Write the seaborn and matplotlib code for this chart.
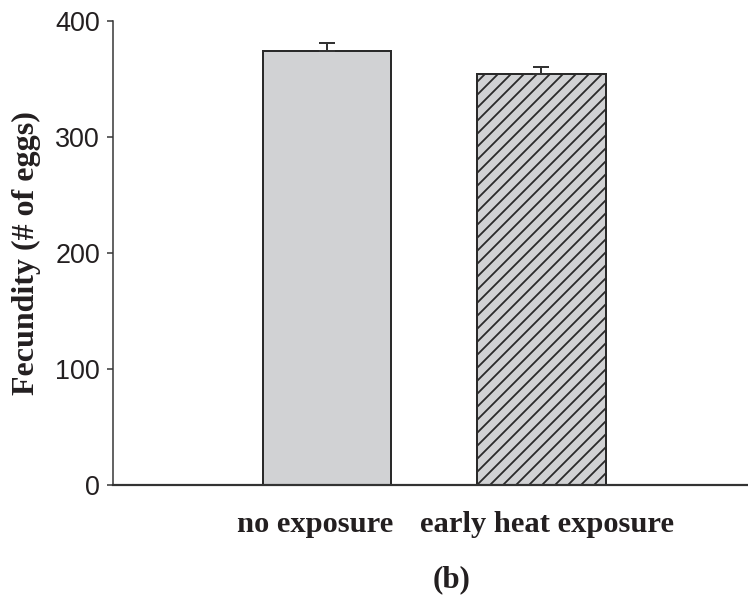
import matplotlib
matplotlib.use("Agg")
import matplotlib.pyplot as plt
import matplotlib.transforms as mtransforms
import seaborn as sns
import pandas as pd

# ---- data ----
categories = ["no exposure", "early heat exposure"]
fecundity = [374, 354]
sem = [7, 6.5]
yticks = [0, 100, 200, 300, 400]
panel_label = "(b)"
ylabel = "Fecundity (# of eggs)"

DPI = 78
W, H = 748, 600
def px2pt(px):
    return px * 72.0 / DPI

sns.set_theme(style="white")
plt.rcParams["hatch.linewidth"] = px2pt(1.8)

fig = plt.figure(figsize=(W / DPI, H / DPI), dpi=DPI)
ax = fig.add_axes([113 / W, 1 - 485 / H, (W - 113) / W, (485 - 20.7) / H])

df = pd.DataFrame({"group": categories, "eggs": fecundity})
sns.barplot(data=df, x="group", y="eggs", order=categories, color="#d1d2d4",
            saturation=1, errorbar=None, width=0.6, edgecolor="#2a2a2a",
            linewidth=px2pt(2), ax=ax, zorder=2)
ax.patches[1].set_hatch("//")

ax.errorbar(x=[0, 1], y=fecundity, yerr=[[0, 0], sem], fmt="none",
            ecolor="#333333", elinewidth=px2pt(2), capsize=px2pt(8),
            capthick=px2pt(2), zorder=3)

ax.set_xlim(-1.0, 1.965)
ax.set_ylim(0, 400)
ax.set_yticks(yticks)
ax.set_yticklabels([str(t) for t in yticks], fontfamily="Liberation Sans",
                   fontsize=px2pt(27), color="#231f20")
ax.tick_params(axis="y", which="both", left=True, length=px2pt(6),
               width=px2pt(1.5), color="#333333", pad=px2pt(7), direction="out")
ax.tick_params(axis="x", length=0, pad=px2pt(26))
ax.set_xticks([0, 1])
ax.set_xticklabels(categories, fontfamily="Liberation Serif", fontweight="bold",
                   fontsize=px2pt(30.5), color="#231f20")
offsets = [-12, 6]
for lab, off in zip(ax.get_xticklabels(), offsets):
    lab.set_transform(lab.get_transform() +
                      mtransforms.ScaledTranslation(off / DPI, 0, fig.dpi_scale_trans))

ax.set_xlabel("")
ax.set_ylabel(ylabel, fontfamily="Liberation Serif", fontweight="bold",
              fontsize=px2pt(32), color="#231f20", va="center")
ax.yaxis.set_label_coords((26.5 - 113) / (W - 113), 0.5)

for s in ["top", "right"]:
    ax.spines[s].set_visible(False)
ax.spines["left"].set_color("#333333")
ax.spines["left"].set_linewidth(px2pt(1.5))
ax.spines["bottom"].set_color("#333333")
ax.spines["bottom"].set_linewidth(px2pt(2.2))
ax.spines["bottom"].set_zorder(4)
ax.grid(False)
ax.set_facecolor("white")

fig.text(452 / W, 1 - 580 / H, panel_label, fontfamily="Liberation Serif",
         fontweight="bold", fontsize=px2pt(31), color="#231f20",
         ha="center", va="center")

fig.savefig("out.png", dpi=DPI, facecolor="white")
